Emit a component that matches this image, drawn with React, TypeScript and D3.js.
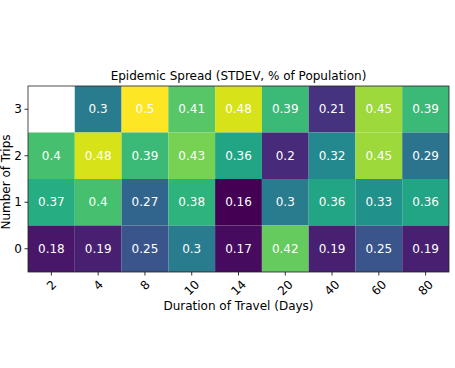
import React from "react";
import * as d3 from "d3";

// durations on the x axis, trips on the y axis (top row first)
const durations = ["2", "4", "8", "10", "14", "20", "40", "60", "80"];
const trips = ["3", "2", "1", "0"];

const row3 = [NaN, 0.3, 0.5, 0.41, 0.48, 0.39, 0.21, 0.45, 0.39];
const row2 = [0.4, 0.48, 0.39, 0.43, 0.36, 0.2, 0.32, 0.45, 0.29];
const row1 = [0.37, 0.4, 0.27, 0.38, 0.16, 0.3, 0.36, 0.33, 0.36];
const row0 = [0.18, 0.19, 0.25, 0.3, 0.17, 0.42, 0.19, 0.25, 0.19];
const rows = [row3, row2, row1, row0];

const W = 455;
const H = 368;
const left = 28;
const right = 449;
const top = 86;
const bottom = 272;
const FONT = "DejaVu Sans, sans-serif";
const FS = 12;

export default function App() {
  const x = d3.scaleBand().domain(durations).range([left, right]);
  const y = d3.scaleBand().domain(trips).range([top, bottom]);
  const all = rows.flat().filter((v) => !isNaN(v));
  const color = d3
    .scaleSequential(d3.interpolateViridis)
    .domain([d3.min(all) as number, d3.max(all) as number]);

  const cells = [];
  rows.forEach((r, i) => {
    r.forEach((v, j) => {
      if (isNaN(v)) return;
      const cx = x(durations[j]) as number;
      const cy = y(trips[i]) as number;
      cells.push(
        <g key={`${i}-${j}`}>
          <rect x={cx} y={cy} width={x.bandwidth()} height={y.bandwidth()} fill={color(v)} />
          <text
            x={cx + x.bandwidth() / 2}
            y={cy + y.bandwidth() / 2}
            dy="0.35em"
            textAnchor="middle"
            fill="white"
            fontSize={FS}
          >
            {v}
          </text>
        </g>
      );
    });
  });

  return (
    <svg
      width={W}
      height={H}
      style={{ position: "absolute", left: 0, top: 0, background: "white" }}
      fontFamily={FONT}
    >
      <text x={(left + right) / 2} y={80} textAnchor="middle" fontSize={FS} fill="black">
        Epidemic Spread (STDEV, % of Population)
      </text>
      {cells}
      <rect x={left} y={top} width={right - left} height={bottom - top} fill="none" stroke="#222" strokeWidth={0.8} />
      {durations.map((d) => {
        const cx = (x(d) as number) + x.bandwidth() / 2;
        const cy = 279 + (d.length * 7.6 + 9.5) * 0.354;
        return (
          <g key={d}>
            <line x1={cx} x2={cx} y1={bottom} y2={bottom + 3.5} stroke="black" strokeWidth={0.8} />
            <text
              transform={`translate(${cx},${cy}) rotate(-45)`}
              textAnchor="middle"
              dy="0.35em"
              fontSize={FS}
              fill="black"
            >
              {d}
            </text>
          </g>
        );
      })}
      {trips.map((t) => {
        const cy = (y(t) as number) + y.bandwidth() / 2;
        return (
          <g key={t}>
            <line x1={left - 3.5} x2={left} y1={cy} y2={cy} stroke="black" strokeWidth={0.8} />
            <text x={left - 6} y={cy} dy="0.35em" textAnchor="end" fontSize={FS} fill="black">
              {t}
            </text>
          </g>
        );
      })}
      <text x={(left + right) / 2} y={309.5} textAnchor="middle" fontSize={FS} fill="black">
        Duration of Travel (Days)
      </text>
      <text
        transform={`translate(10,182) rotate(-90)`}
        textAnchor="middle"
        fontSize={FS}
        fill="black"
      >
        Number of Trips
      </text>
    </svg>
  );
}
